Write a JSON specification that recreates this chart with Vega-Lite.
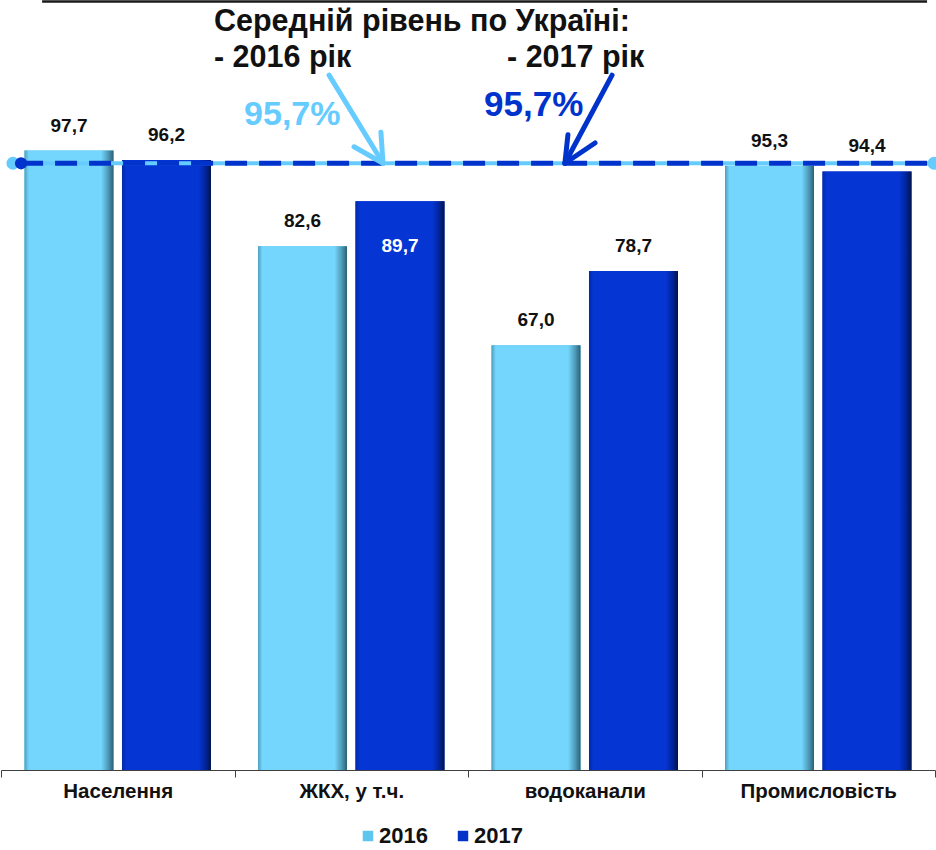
{
  "$schema": "https://vega.github.io/schema/vega-lite/v6.json",
  "width": 934,
  "height": 770,
  "padding": {"left": 0, "top": 0, "right": 0, "bottom": 0},
  "config": {
    "view": {"stroke": null},
    "font": "Liberation Sans",
    "locale": {"number": {"decimal": ",", "thousands": " ", "grouping": [3], "currency": ["", ""]}}
  },
  "datasets": {
    "bars": [
      {"category": "Населення", "year": "2016", "value": 97.7},
      {"category": "Населення", "year": "2017", "value": 96.2},
      {"category": "ЖКХ,  у т.ч.", "year": "2016", "value": 82.6},
      {"category": "ЖКХ,  у т.ч.", "year": "2017", "value": 89.7},
      {"category": "водоканали", "year": "2016", "value": 67.0},
      {"category": "водоканали", "year": "2017", "value": 78.7},
      {"category": "Промисловість", "year": "2016", "value": 95.3},
      {"category": "Промисловість", "year": "2017", "value": 94.4}
    ],
    "guides": [
      {"id": "top", "x": 0.176, "x2": 3.966, "y": 121.2, "y2": 121.2},
      {"id": "avg16", "x": 0.051, "x2": 3.996, "y": 95.7, "y2": 95.7},
      {"id": "avg17", "x": 0.086, "x2": 3.97, "y": 95.7, "y2": 95.7},
      {"id": "arr16", "x": 1.405, "y": 109.6, "x2": 1.636, "y2": 95.7},
      {"id": "arr16", "x": 1.627, "y": 100.6, "x2": 1.636, "y2": 95.7},
      {"id": "arr16", "x": 1.512, "y": 98.3, "x2": 1.636, "y2": 95.7},
      {"id": "arr17", "x": 2.617, "y": 109.6, "x2": 2.415, "y2": 95.7},
      {"id": "arr17", "x": 2.428, "y": 100.2, "x2": 2.415, "y2": 95.7},
      {"id": "arr17", "x": 2.544, "y": 98.9, "x2": 2.415, "y2": 95.7}
    ],
    "dots": [
      {"id": "l", "x": 0.051, "y": 95.7},
      {"id": "l", "x": 3.996, "y": 95.7},
      {"id": "d", "x": 0.086, "y": 95.7}
    ],
    "notes": [
      {"id": "title", "x": 0.912, "y": 118.0, "t": "Середній рівень по Україні:"},
      {"id": "title", "x": 0.912, "y": 112.3, "t": "- 2016 рік"},
      {"id": "title", "x": 2.167, "y": 112.3, "t": "- 2017 рік"},
      {"id": "p16", "x": 1.041, "y": 103.3, "t": "95,7%"},
      {"id": "p17", "x": 2.069, "y": 104.9, "t": "95,7%"}
    ]
  },
  "layer": [
    {
      "data": {"name": "bars"},
      "encoding": {
        "x": {
          "field": "category", "type": "nominal",
          "scale": {"domain": ["Населення", "ЖКХ,  у т.ч.", "водоканали", "Промисловість"], "paddingInner": 0, "paddingOuter": 0},
          "axis": {
            "title": null, "labelAngle": 0, "labelFontSize": 20.5, "labelFontWeight": "bold",
            "labelColor": "#111111", "labelFont": "Liberation Sans", "domainColor": "#404040",
            "tickColor": "#404040", "tickSize": 7, "labelPadding": 4, "tickBand": "extent", "grid": false
          }
        },
        "xOffset": {"field": "year", "type": "nominal", "scale": {"domain": ["2016", "2017"], "paddingInner": 0.087, "paddingOuter": 0.241}},
        "y": {"field": "value", "type": "quantitative", "scale": {"domain": [0, 121.45], "nice": false}, "axis": null}
      },
      "layer": [
        {
          "mark": {"type": "bar"},
          "encoding": {
            "color": {
              "field": "year", "type": "nominal",
              "scale": {"domain": ["2016", "2017"], "range": ["#5CC6EE", "#0432C8"]},
              "legend": {
                "title": null, "orient": "none", "legendX": 356, "legendY": 825, "direction": "horizontal",
                "symbolType": "square", "symbolSize": 110, "labelFontSize": 22, "labelFont": "Liberation Sans",
                "labelFontWeight": "bold", "labelColor": "#111111", "columnPadding": 24, "labelOffset": 0
              }
            }
          }
        },
        {
          "transform": [{"filter": "datum.year === '2016'"}],
          "mark": {
            "type": "bar",
            "color": {"gradient": "linear", "x1": 0, "x2": 1, "y1": 0, "y2": 0,
              "stops": [
                {"offset": 0, "color": "#4E9FBF"},
                {"offset": 0.05, "color": "#74D6FC"},
                {"offset": 0.86, "color": "#74D6FC"},
                {"offset": 0.94, "color": "#4E9AB8"},
                {"offset": 1, "color": "#2A5F74"}
              ]}
          }
        },
        {
          "transform": [{"filter": "datum.year === '2017'"}],
          "mark": {
            "type": "bar",
            "color": {"gradient": "linear", "x1": 0, "x2": 1, "y1": 0, "y2": 0,
              "stops": [
                {"offset": 0, "color": "#0329A8"},
                {"offset": 0.05, "color": "#0535D3"},
                {"offset": 0.86, "color": "#0535D3"},
                {"offset": 0.94, "color": "#02249A"},
                {"offset": 1, "color": "#011448"}
              ]}
          }
        },
        {
          "transform": [{"filter": "!(datum.category === 'ЖКХ,  у т.ч.' && datum.year === '2017')"}],
          "mark": {"type": "text", "dy": -25, "baseline": "middle", "fontSize": 19, "fontWeight": "bold", "color": "#111111", "font": "Liberation Sans"},
          "encoding": {"text": {"field": "value", "type": "quantitative", "format": ".1f"}}
        },
        {
          "transform": [{"filter": "datum.category === 'ЖКХ,  у т.ч.' && datum.year === '2017'"}],
          "mark": {"type": "text", "dy": 45, "baseline": "middle", "fontSize": 19, "fontWeight": "bold", "color": "#FFFFFF", "font": "Liberation Sans"},
          "encoding": {"text": {"field": "value", "type": "quantitative", "format": ".1f"}}
        }
      ]
    },
    {
      "data": {"name": "guides"},
      "layer": [
        {
          "transform": [{"filter": "datum.id === 'top'"}],
          "mark": {"type": "rule", "color": "#1a1a1a", "strokeWidth": 2.5}
        },
        {
          "transform": [{"filter": "datum.id === 'avg16'"}],
          "mark": {"type": "rule", "color": "#66CCFF", "strokeWidth": 4}
        },
        {
          "transform": [{"filter": "datum.id === 'avg17'"}],
          "mark": {"type": "rule", "color": "#0033CC", "strokeWidth": 5, "strokeDash": [22, 12]}
        },
        {
          "transform": [{"filter": "datum.id === 'arr16'"}],
          "mark": {"type": "rule", "color": "#66CCFF", "strokeWidth": 5, "strokeCap": "round"}
        },
        {
          "transform": [{"filter": "datum.id === 'arr17'"}],
          "mark": {"type": "rule", "color": "#0033CC", "strokeWidth": 5, "strokeCap": "round"}
        }
      ],
      "encoding": {
        "x": {"field": "x", "type": "quantitative", "scale": {"domain": [0, 4], "nice": false, "zero": false}, "axis": null},
        "x2": {"field": "x2"},
        "y": {"field": "y", "type": "quantitative", "scale": {"domain": [0, 121.45], "nice": false}, "axis": null},
        "y2": {"field": "y2"}
      }
    },
    {
      "data": {"name": "dots"},
      "layer": [
        {
          "transform": [{"filter": "datum.id === 'l'"}],
          "mark": {"type": "point", "filled": true, "opacity": 1, "color": "#66CCFF", "size": 170}
        },
        {
          "transform": [{"filter": "datum.id === 'd'"}],
          "mark": {"type": "point", "filled": true, "opacity": 1, "color": "#0033CC", "size": 150}
        }
      ],
      "encoding": {
        "x": {"field": "x", "type": "quantitative", "scale": {"domain": [0, 4], "nice": false, "zero": false}, "axis": null},
        "y": {"field": "y", "type": "quantitative", "scale": {"domain": [0, 121.45], "nice": false}, "axis": null}
      }
    },
    {
      "data": {"name": "notes"},
      "layer": [
        {
          "transform": [{"filter": "datum.id === 'title'"}],
          "mark": {"type": "text", "align": "left", "baseline": "middle", "fontSize": 30.5, "fontWeight": "bold", "color": "#111111", "font": "Liberation Sans"}
        },
        {
          "transform": [{"filter": "datum.id === 'p16'"}],
          "mark": {"type": "text", "align": "left", "baseline": "middle", "fontSize": 34, "fontWeight": "bold", "color": "#66CCFF", "font": "Liberation Sans"}
        },
        {
          "transform": [{"filter": "datum.id === 'p17'"}],
          "mark": {"type": "text", "align": "left", "baseline": "middle", "fontSize": 35, "fontWeight": "bold", "color": "#0033CC", "font": "Liberation Sans"}
        }
      ],
      "encoding": {
        "x": {"field": "x", "type": "quantitative", "scale": {"domain": [0, 4], "nice": false, "zero": false}, "axis": null},
        "y": {"field": "y", "type": "quantitative", "scale": {"domain": [0, 121.45], "nice": false}, "axis": null},
        "text": {"field": "t", "type": "nominal"}
      }
    }
  ],
  "resolve": {"scale": {"x": "independent"}}
}
